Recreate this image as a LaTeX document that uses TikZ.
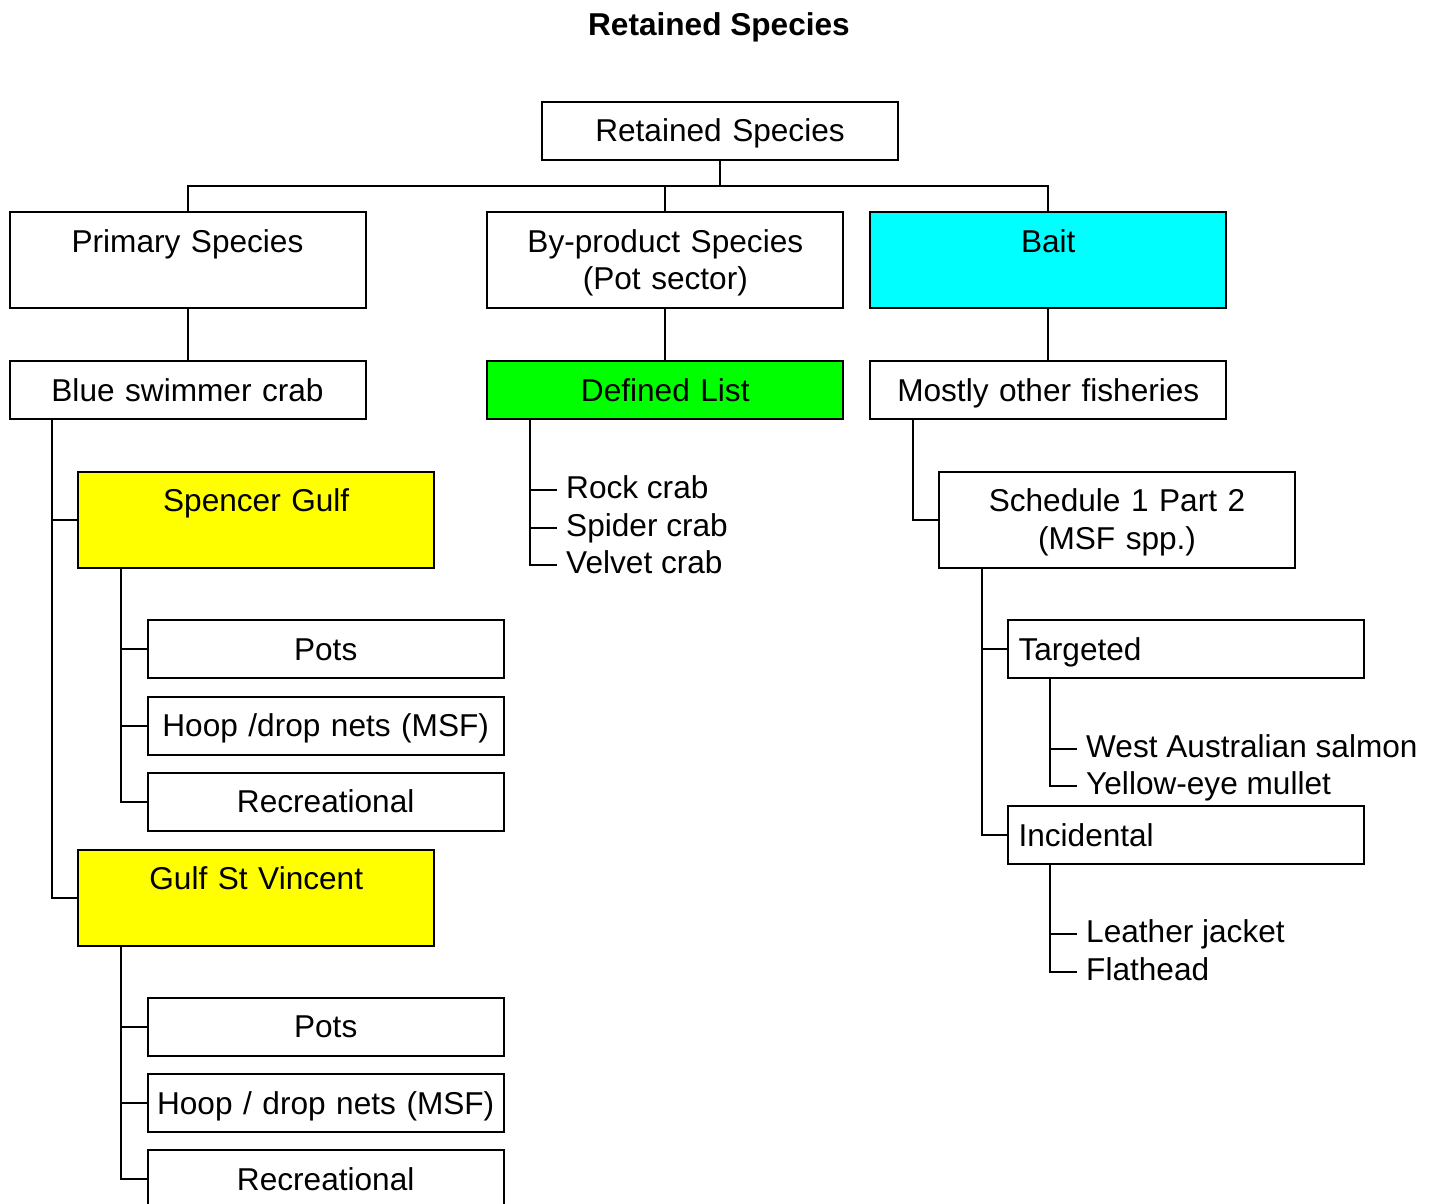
\documentclass[tikz,border=0pt]{standalone}
\usepackage{fontspec}
\setmainfont{Liberation Sans}
\definecolor{baitcyan}{RGB}{0,255,255}
\definecolor{listgreen}{RGB}{0,255,0}
\definecolor{gulfyellow}{RGB}{255,255,0}
\tikzset{
  every node/.style={font=\fontsize{31.6}{37.5}\selectfont},
  box/.style={draw, line width=2pt, inner sep=0pt, text width=356pt, align=center, text height=40pt, text depth=18pt},
  tallbox/.style={box, text depth=56pt},
  leftbox/.style={box, inner xsep=11pt, text width=334pt, align=left},
  item/.style={anchor=west, inner xsep=9pt, inner ysep=0pt, text height=24pt, text depth=7pt},
  conn/.style={line width=2pt}
}
\begin{document}
\begin{tikzpicture}[x=1pt,y=-1pt]
        \useasboundingbox (0,0) rectangle (1440,1204);
        \clip (0,0) rectangle (1440,1204);
        %title
        \node[anchor=base,font=\fontsize{31.6}{37.5}\selectfont\bfseries] (title) at (719,36) {Retained Species};

        %top levels
        \node[box] (root) at (720,131) {Retained Species};
        \node[tallbox] (prim) at (187.5,260) {Primary Species};
        \node[tallbox] (byp) at (665.3,260) {By-product Species\\(Pot sector)};
        \node[tallbox,fill=baitcyan] (bait) at (1048.3,260) {Bait};
        \coordinate (bus) at (720,186);
        \draw[conn] (root.south) -- (bus) -| (prim.north);
        \draw[conn] (bus) -| (bait.north);
        \draw[conn] (bus) -| (byp.north);

        \node[box] (bsc) at (187.5,390) {Blue swimmer crab};
        \node[box,fill=listgreen] (dl) at (665.3,390) {Defined List};
        \node[box] (mof) at (1048.3,390) {Mostly other fisheries};
        \draw[conn] (prim.south) -- (bsc.north);
        \draw[conn] (byp.south) -- (dl.north);
        \draw[conn] (bait.south) -- (mof.north);

        %primary species
        \node[tallbox,fill=gulfyellow] (sg) at (256.2,519.5) {Spencer Gulf};
        \node[tallbox,fill=gulfyellow] (gsv) at (256.2,897.5) {Gulf St Vincent};
        \draw[conn] ([xshift=43.5pt]bsc.south west) |- (sg.west);
        \draw[conn] ([xshift=43.5pt]bsc.south west) |- (gsv.west);

        \node[box] (pots1) at (325.7,649.3) {Pots};
        \node[box] (hoop1) at (325.7,725.5) {Hoop /drop nets (MSF)};
        \node[box] (rec1) at (325.7,801.5) {Recreational};
        \draw[conn] ([xshift=43.5pt]sg.south west) |- (pots1.west);
        \draw[conn] ([xshift=43.5pt]sg.south west) |- (hoop1.west);
        \draw[conn] ([xshift=43.5pt]sg.south west) |- (rec1.west);

        \node[box] (pots2) at (325.7,1026.5) {Pots};
        \node[box] (hoop2) at (325.7,1103) {Hoop / drop nets (MSF)};
        \node[box] (rec2) at (325.7,1179.3) {Recreational};
        \draw[conn] ([xshift=43.5pt]gsv.south west) |- (pots2.west);
        \draw[conn] ([xshift=43.5pt]gsv.south west) |- (hoop2.west);
        \draw[conn] ([xshift=43.5pt]gsv.south west) |- (rec2.west);

        %defined list
        \node[item] (rock) at (557,490) {Rock crab};
        \node[item] (spider) at (557,527.5) {Spider crab};
        \node[item] (velvet) at (557,565) {Velvet crab};
        \draw[conn] ([xshift=44pt]dl.south west) |- (rock.west);
        \draw[conn] ([xshift=44pt]dl.south west) |- (spider.west);
        \draw[conn] ([xshift=44pt]dl.south west) |- (velvet.west);

        %bait
        \node[tallbox] (sched) at (1117,519.5) {Schedule 1 Part 2\\(MSF spp.)};
        \draw[conn] ([xshift=43.5pt]mof.south west) |- (sched.west);

        \node[leftbox] (targ) at (1185.5,649) {Targeted};
        \node[leftbox] (inc) at (1185.5,835) {Incidental};
        \draw[conn] ([xshift=43.5pt]sched.south west) |- (targ.west);
        \draw[conn] ([xshift=43.5pt]sched.south west) |- (inc.west);

        \node[item] (salmon) at (1077,748.5) {West Australian salmon};
        \node[item] (mullet) at (1077,786) {Yellow-eye mullet};
        \draw[conn] ([xshift=43.5pt]targ.south west) |- (salmon.west);
        \draw[conn] ([xshift=43.5pt]targ.south west) |- (mullet.west);

        \node[item] (leather) at (1077,934) {Leather jacket};
        \node[item] (flat) at (1077,971.5) {Flathead};
        \draw[conn] ([xshift=43.5pt]inc.south west) |- (leather.west);
        \draw[conn] ([xshift=43.5pt]inc.south west) |- (flat.west);
\end{tikzpicture}
\end{document}
